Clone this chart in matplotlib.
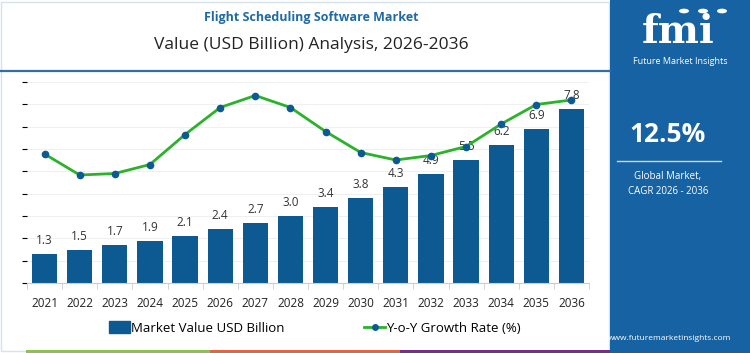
import matplotlib
matplotlib.use("Agg")
import matplotlib.pyplot as plt
from matplotlib.patches import Rectangle, Patch, Circle
from matplotlib.lines import Line2D

plt.rcParams["font.family"] = ["Open Sans", "DejaVu Sans"]

years = ["2021", "2022", "2023", "2024", "2025", "2026", "2027", "2028",
         "2029", "2030", "2031", "2032", "2033", "2034", "2035", "2036"]
market_value = [1.3, 1.5, 1.7, 1.9, 2.1, 2.4, 2.7, 3.0,
                3.4, 3.8, 4.3, 4.9, 5.5, 6.2, 6.9, 7.8]
yoy_growth = [8.6, 7.2, 7.3, 7.9, 9.9, 11.7, 12.5, 11.7,
              10.1, 8.7, 8.2, 8.5, 9.1, 10.6, 11.9, 12.2]

BLUE = "#0d5a93"
GREEN = "#2bb22b"
PANEL = "#1762a2"

W, H = 750, 353
fig = plt.figure(figsize=(W / 100, H / 100), dpi=100)

def fx(px):
    return px / W

def fy(py):
    return 1 - py / H

# frame + header
fig.patches.append(Rectangle((fx(1), fy(351)), fx(608), 349 / H, transform=fig.transFigure,
                             fill=False, ec="#d6e2ec", lw=1))
fig.text(fx(311), fy(18), "Flight Scheduling Software Market", ha="center", va="center",
         fontsize=9, fontweight="bold", color="#1f6aa5")
fig.text(fx(311), fy(45), "Value (USD Billion) Analysis, 2026-2036", ha="center", va="center",
         fontsize=12.5, color="#222222")
fig.add_artist(Line2D([0, fx(610)], [fy(71), fy(71)], transform=fig.transFigure,
                      color="#2f6fa5", lw=1.6))

# bottom colour strip
for x0, x1, c in [(26, 210, "#8dc34a"), (210, 400, "#e8643c"), (400, 610, "#7b2d8e")]:
    fig.patches.append(Rectangle((fx(x0), 0), fx(x1 - x0), 3 / H, transform=fig.transFigure,
                                 color=c, lw=0))

# main axes
ax = fig.add_axes([fx(27), fy(283), fx(562), 201 / H])
x = list(range(len(years)))
bars = ax.bar(x, market_value, width=0.72, color=BLUE, zorder=2)
for xi, v in zip(x, market_value):
    ax.annotate(f"{v:.1f}", (xi, v), xytext=(0, 5), textcoords="offset points",
                ha="center", va="bottom", fontsize=8.5, color="#333333", zorder=5)
ax.set_xlim(-0.5, len(years) - 0.5)
ax.set_ylim(0, 9)
ax.set_yticks(range(0, 10))
ax.yaxis.grid(True, color="#efefef", lw=0.7, zorder=0)
ax.set_axisbelow(True)
ax.tick_params(axis="y", left=False, labelleft=False)
ax.set_xticks(x)
ax.set_xticklabels(years, fontsize=8.5, color="#222222")
ax.tick_params(axis="x", which="major", length=0, pad=10)
ax.set_xticks([i - 0.5 for i in range(len(years) + 1)], minor=True)
ax.tick_params(axis="x", which="minor", length=4, color="#cccccc")
for s in ["top", "right", "left"]:
    ax.spines[s].set_visible(False)
ax.spines["bottom"].set_color("#cccccc")

ax2 = ax.twinx()
ax2.plot(x, yoy_growth, color=GREEN, lw=2, marker="o", markersize=4.5,
         markerfacecolor=BLUE, markeredgecolor=BLUE, zorder=4)
ax2.set_ylim(0, 13.4)
ax2.axis("off")

handles = [Patch(color=BLUE),
           Line2D([0], [0], color=GREEN, lw=2, marker="o", markersize=4,
                  markerfacecolor=BLUE, markeredgecolor=BLUE)]
fig.legend(handles, ["Market Value USD Billion", "Y-o-Y Growth Rate (%)"], ncol=2,
           loc="center", bbox_to_anchor=(fx(315), fy(328)), frameon=False,
           fontsize=9.5, handlelength=1.6, handleheight=1.0, handletextpad=0.1,
           columnspacing=6)

# right panel
fig.patches.append(Rectangle((fx(610), 0), fx(140), 1, transform=fig.transFigure,
                             color=PANEL, lw=0))
fig.text(fx(678), fy(32), "fmi", ha="center", va="center", fontsize=28,
         fontweight="bold", family="DejaVu Serif", color="white")
# stripes through the logo letters
for py in range(18, 52, 4):
    fig.add_artist(Line2D([fx(626), fx(734)], [fy(py), fy(py)], transform=fig.transFigure,
                          color=PANEL, lw=0.8))
for cx in [684, 703, 722]:
    fig.patches.append(Circle((fx(cx), fy(11)), 5 / W, transform=fig.transFigure,
                              fc="white", ec="none"))
fig.text(fx(680), fy(62), "Future Market Insights", ha="center", va="center",
         fontsize=6.5, color="white")
fig.text(fx(668), fy(134), "12.5%", ha="center", va="center", fontsize=19,
         fontweight="bold", color="white")
fig.add_artist(Line2D([fx(617), fx(721)], [fy(161), fy(161)], transform=fig.transFigure,
                      color="#c8d8e8", lw=1))
fig.text(fx(668), fy(177), "Global Market,", ha="center", va="center", fontsize=7,
         color="white")
fig.text(fx(668), fy(191), "CAGR 2026 - 2036", ha="center", va="center", fontsize=7,
         color="white")
fig.text(fx(670), fy(339), "www.futuremarketinsights.com", ha="center", va="center",
         fontsize=6, color="white")

fig.savefig("out.png", dpi=100)
